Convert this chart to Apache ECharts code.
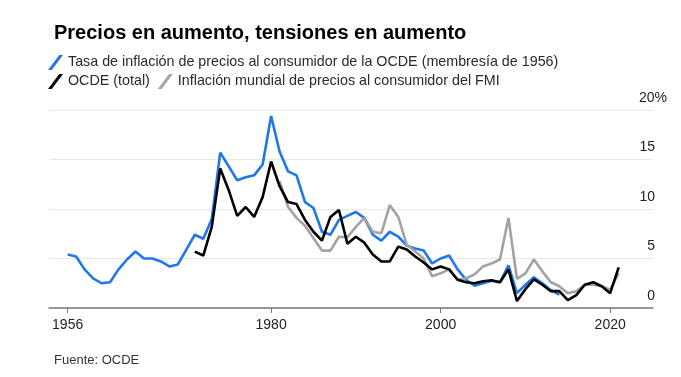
<!DOCTYPE html>
<html>
<head>
<meta charset="utf-8">
<script src="https://cdn.jsdelivr.net/npm/echarts@6/dist/echarts.min.js"></script>
<style>
  html, body { margin: 0; padding: 0; background: #fff; }
  #chart { width: 681px; height: 377px; }
</style>
</head>
<body>
<div id="chart"></div>
<script>
const years = [1956, 1957, 1958, 1959, 1960, 1961, 1962, 1963, 1964, 1965,
  1966, 1967, 1968, 1969, 1970, 1971, 1972, 1973, 1974, 1975,
  1976, 1977, 1978, 1979, 1980, 1981, 1982, 1983, 1984, 1985,
  1986, 1987, 1988, 1989, 1990, 1991, 1992, 1993, 1994, 1995,
  1996, 1997, 1998, 1999, 2000, 2001, 2002, 2003, 2004, 2005,
  2006, 2007, 2008, 2009, 2010, 2011, 2012, 2013, 2014, 2015,
  2016, 2017, 2018, 2019, 2020, 2021];

// OCDE membresía de 1956 (1956-2014)
const ocde1956 = [5.4, 5.2, 3.9, 3.0, 2.5, 2.6, 3.9, 4.9, 5.7, 5.0,
  5.0, 4.7, 4.2, 4.4, 5.9, 7.4, 7.0, 9.0, 15.7, 14.3,
  12.9, 13.2, 13.4, 14.5, 19.4, 15.8, 13.8, 13.4, 10.7, 10.1,
  7.7, 7.4, 8.9, 9.3, 9.7, 9.1, 7.4, 6.8, 7.7, 7.2,
  6.3, 6.0, 5.8, 4.5, 5.0, 5.3, 3.9, 2.85, 2.25, 2.5,
  2.75, 2.6, 4.3, 1.5, 2.35, 3.1, 2.5, 1.8, 1.35, null,
  null, null, null, null, null, null];

// OCDE total (1971-2021)
const ocdeTotal = [null, null, null, null, null, null, null, null, null, null,
  null, null, null, null, null, 5.7, 5.3, 8.2, 14.1, 11.9,
  9.3, 10.2, 9.2, 11.2, 14.8, 12.3, 10.7, 10.5, 8.9, 7.7,
  6.8, 9.2, 9.9, 6.5, 7.2, 6.6, 5.4, 4.7, 4.7, 6.2,
  5.9, 5.2, 4.6, 3.9, 4.2, 3.9, 2.85, 2.6, 2.5, 2.7,
  2.8, 2.6, 3.9, 0.7, 1.9, 2.9, 2.35, 1.7, 1.7, 0.8,
  1.3, 2.35, 2.6, 2.2, 1.5, 4.1];

// FMI mundial (1981-2021)
const fmiMundial = [null, null, null, null, null, null, null, null, null, null,
  null, null, null, null, null, null, null, null, null, null,
  null, null, null, null, null, 12.8, 10.2, 9.1, 8.3, 7.05,
  5.8, 5.8, 7.2, 7.15, 8.2, 9.1, 7.7, 7.55, 10.4, 9.2,
  6.4, 5.7, 5.0, 3.2, 3.5, 3.9, 2.85, 3.0, 3.4, 4.2,
  4.5, 4.9, 9.1, 2.95, 3.5, 4.9, 3.7, 2.6, 2.2, 1.5,
  1.7, 2.35, 2.35, 2.2, 1.85, 3.5];

const xTicks = [1956, 1980, 2000, 2020];

const names = [
  'Tasa de inflación de precios al consumidor de la OCDE (membresía de 1956)',
  'OCDE (total)',
  'Inflación mundial de precios al consumidor del FMI'
];
const colors = ['#1f77e8', '#000000', '#a3a3a3'];

const pairs = (vals) => years.map((y, i) => [y, vals[i]]);
// slanted stroke used as legend marker
const slash = 'path://M0,12 L3,12 L12,0 L9,0 Z';

const chart = echarts.init(document.getElementById('chart'));
const baseFont = 'Liberation Sans, Arial, sans-serif';

const option = {
  animation: false,
  textStyle: { fontFamily: baseFont },
  title: [{
    text: 'Precios en aumento, tensiones en aumento',
    left: 49,
    top: 18,
    textStyle: { fontSize: 20, fontWeight: 'bold', color: '#000', fontFamily: baseFont }
  }, {
    text: 'Fuente: OCDE',
    left: 49,
    top: 349,
    textStyle: { fontSize: 13, fontWeight: 'normal', color: '#333', fontFamily: baseFont }
  }],
  legend: [{
    data: [names[0]],
    left: 43,
    top: 50,
    icon: slash,
    itemWidth: 15,
    itemHeight: 15,
    textStyle: { fontSize: 14.3, color: '#2a2a2a' }
  }, {
    data: [names[1], names[2]],
    left: 43,
    top: 69,
    icon: slash,
    itemWidth: 15,
    itemHeight: 15,
    itemGap: 8,
    textStyle: { fontSize: 14.3, color: '#2a2a2a' }
  }],
  grid: { left: 49, right: 28, top: 110, bottom: 69 },
  xAxis: {
    type: 'value',
    min: 1953.8,
    max: 2025.05,
    axisLine: { show: true, lineStyle: { color: '#777', width: 1.5 } },
    axisTick: { show: true, customValues: xTicks, length: 5, lineStyle: { color: '#777' } },
    axisLabel: {
      customValues: xTicks,
      formatter: (v) => String(v),
      fontSize: 14,
      color: '#222',
      margin: 10
    },
    splitLine: { show: false }
  },
  yAxis: {
    type: 'value',
    position: 'right',
    min: 0,
    max: 20,
    interval: 5,
    axisLine: { show: false },
    axisTick: { show: false },
    splitLine: { lineStyle: { color: '#e8e8e8', width: 1 } },
    axisLabel: {
      align: 'right',
      verticalAlign: 'bottom',
      margin: 14,
      fontSize: 14,
      color: '#222',
      padding: [0, 0, 5, 0],
      formatter: (v) => v === 20 ? '20%' : v + '{p|}',
      rich: { p: { width: 12 } }
    }
  },
  series: [{
    name: names[0],
    type: 'line',
    data: pairs(ocde1956),
    showSymbol: false,
    color: colors[0],
    itemStyle: { color: colors[0] },
    lineStyle: { color: colors[0], width: 2.6 },
    z: 2
  }, {
    name: names[2],
    type: 'line',
    data: pairs(fmiMundial),
    showSymbol: false,
    color: colors[2],
    itemStyle: { color: colors[2] },
    lineStyle: { color: colors[2], width: 2.6 },
    z: 3
  }, {
    name: names[1],
    type: 'line',
    data: pairs(ocdeTotal),
    showSymbol: false,
    color: colors[1],
    itemStyle: { color: colors[1] },
    lineStyle: { color: colors[1], width: 2.6 },
    z: 4
  }]
};

chart.setOption(option);
</script>
</body>
</html>
